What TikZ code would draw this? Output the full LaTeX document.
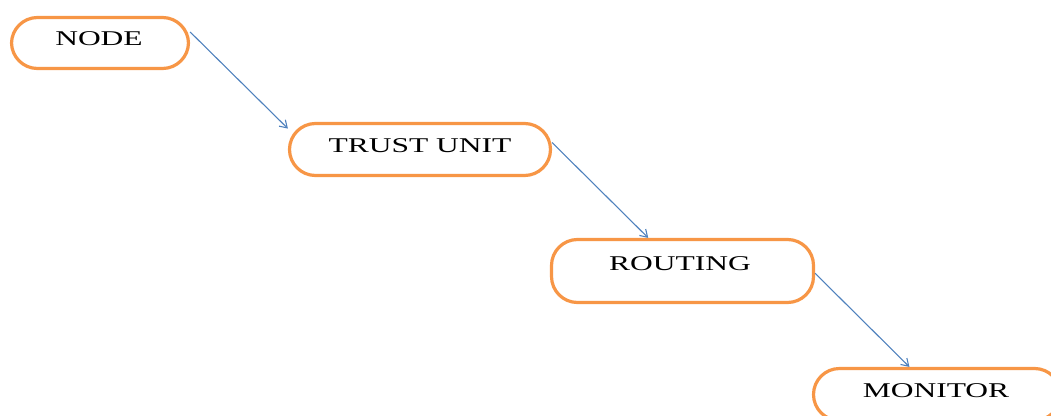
\documentclass[tikz,border=0pt]{standalone}
\usepackage{fontspec}
\setmainfont{Liberation Serif}
\usetikzlibrary{arrows.meta}
\definecolor{boxorange}{RGB}{247,150,70}
\definecolor{arrowblue}{RGB}{79,129,189}
\newcommand{\wide}[1]{\scalebox{1.5}[1]{#1}}
\begin{document}
\begin{tikzpicture}[x=1pt,y=-1pt,
  box/.style={draw=boxorange, line width=3.2pt, rounded corners=26pt, fill=white, inner sep=0pt},
  label text/.style={anchor=base, inner sep=0pt, font=\fontsize{21}{22}\selectfont, text=black},
  conn/.style={draw=arrowblue, line width=1.1pt, -{Straight Barb[length=7pt,width=9pt]}}]
\clip (0,0) rectangle (1051,415);
\useasboundingbox (0,0) rectangle (1051,415);
\node[box, minimum width=177pt, minimum height=51pt] (n1) at (100,43) {};
\node[box, minimum width=261pt, minimum height=52pt] (n2) at (420,149.5) {};
\node[box, minimum width=262pt, minimum height=63pt] (n3) at (682.5,271) {};
\node[box, minimum width=247pt, minimum height=52pt] (n4) at (937,394.5) {};
\node[label text] (t1) at (99,45.5) {\wide{NODE}};
\node[label text] (t2) at (420,152) {\wide{TRUST UNIT}};
\node[label text] (t3) at (680,270.5) {\wide{ROUTING}};
\node[label text] (t4) at (936,397) {\wide{MONITOR}};
\draw[conn] (n1.7.6) -- (n2.171);
\draw[conn] (n2.3) -- (n3.136);
\draw[conn] (n3.-1) -- (n4.135.5);
\end{tikzpicture}
\end{document}
